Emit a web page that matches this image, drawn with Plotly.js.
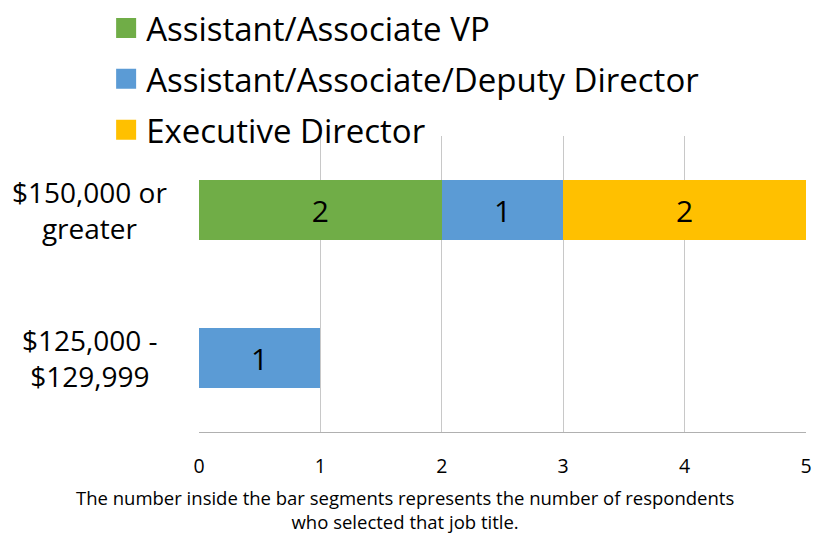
<!DOCTYPE html>
<html>
<head>
<meta charset="utf-8">
<script src="https://cdn.plot.ly/plotly-3.0.1.min.js"></script>
<style>html,body{margin:0;padding:0;background:#fff;}#chart{width:818px;height:533px;}</style>
</head>
<body>
<div id="chart"></div>
<script>
// Categories (bottom to top)
const categories = ["$125,000 -<br>$129,999", "$150,000 or<br>greater"];
const seriesNames = ["Assistant/Associate VP", "Assistant/Associate/Deputy Director", "Executive Director"];
const vpValues = [null, 2];
const directorValues = [1, 1];
const execValues = [null, 2];
const xTicks = [0, 1, 2, 3, 4, 5];
const noteText = "The number inside the bar segments represents the number of respondents<br>who selected that job title.";

const colors = ["#70ad47", "#5b9bd5", "#ffc000"];
const FONT = "'Open Sans', sans-serif";
const seriesValues = [vpValues, directorValues, execValues];

const data = seriesNames.map((name, i) => ({
  type: "bar",
  orientation: "h",
  name: name,
  y: categories,
  x: seriesValues[i],
  text: seriesValues[i].map(v => v == null ? "" : String(v)),
  textposition: "inside",
  insidetextanchor: "middle",
  textfont: {family: FONT, size: 30, color: "#000"},
  marker: {color: colors[i], line: {width: 0}},
  legendgroup: "g" + i,
  width: 0.405,
  hoverinfo: "none"
}));

const annotations = categories.map(c => ({
  xref: "paper", yref: "y", x: -0.18, y: c,
  text: c, showarrow: false, xanchor: "center", yanchor: "middle",
  align: "center", font: {family: FONT, size: 28, color: "#000"}
}));
annotations.push({
  xref: "paper", yref: "paper", x: 0.339, y: -0.171,
  text: noteText, showarrow: false, xanchor: "center", yanchor: "top",
  align: "center", font: {family: FONT, size: 18.5, color: "#000"}
});

const layout = {
  width: 818, height: 533,
  margin: {l: 199, r: 12, t: 136, b: 101, pad: 0, autoexpand: false},
  paper_bgcolor: "#fff", plot_bgcolor: "#fff",
  barmode: "stack",
  showlegend: true,
  legend: {
    x: -0.153, xanchor: "left", yref: "container", y: 1.02, yanchor: "top",
    traceorder: "grouped", tracegroupgap: 5,
    font: {family: FONT, size: 33, color: "#000"},
    bgcolor: "rgba(0,0,0,0)", itemclick: false
  },
  xaxis: {
    range: [0, 5], tickvals: xTicks, ticktext: xTicks.map(String),
    showgrid: true, gridcolor: "#c8c8c8", gridwidth: 1,
    zeroline: false, showline: true, linecolor: "#b0b0b0", linewidth: 1,
    ticks: "", ticklabelstandoff: 17,
    tickfont: {family: FONT, size: 19.5, color: "#000"},
    fixedrange: true
  },
  yaxis: {
    type: "category", categoryorder: "array", categoryarray: categories,
    range: [-0.5, 1.5],
    showticklabels: false, showgrid: false, zeroline: false,
    showline: false, ticks: "", fixedrange: true
  },
  annotations: annotations
};

Plotly.newPlot("chart", data, layout, {displayModeBar: false, staticPlot: true}).then(gd => {
  gd.querySelectorAll(".legend .legendpoints path").forEach(p => {
    p.setAttribute("d", "M10,10H-10V-10H10Z");
    p.style.strokeWidth = "0";
  });
});
</script>
</body>
</html>
